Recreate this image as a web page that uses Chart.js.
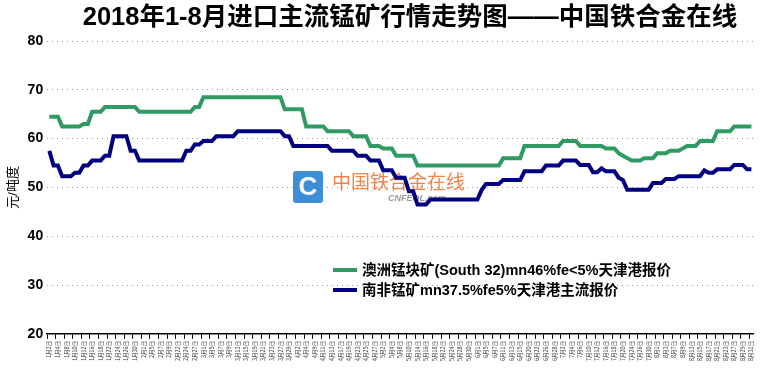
<!DOCTYPE html>
<html>
<head>
<meta charset="utf-8">
<script src="https://cdn.jsdelivr.net/npm/chart.js@4"></script>
<style>
  body { margin: 0; background: #fff; }
</style>
</head>
<body>
<canvas id="manganese" width="760" height="375"></canvas>
<script>
// trading days Jan-Aug 2018, one price per day
const tradeDays = [
  '1月2日', '1月3日', '1月4日', '1月5日', '1月8日', '1月9日', '1月10日', '1月11日', '1月12日', '1月15日',
  '1月16日', '1月17日', '1月18日', '1月19日', '1月22日', '1月23日', '1月24日', '1月25日', '1月26日', '1月29日',
  '1月30日', '1月31日', '2月1日', '2月2日', '2月5日', '2月6日', '2月7日', '2月8日', '2月9日', '2月14日',
  '2月22日', '2月23日', '2月24日', '2月26日', '2月27日', '2月28日', '3月1日', '3月2日', '3月5日', '3月6日',
  '3月7日', '3月8日', '3月9日', '3月12日', '3月13日', '3月14日', '3月15日', '3月16日', '3月19日', '3月20日',
  '3月21日', '3月22日', '3月23日', '3月26日', '3月27日', '3月28日', '3月29日', '3月30日', '4月2日', '4月3日',
  '4月4日', '4月8日', '4月9日', '4月10日', '4月11日', '4月12日', '4月13日', '4月16日', '4月17日', '4月18日',
  '4月19日', '4月20日', '4月23日', '4月24日', '4月25日', '4月26日', '4月27日', '4月28日', '5月2日', '5月3日',
  '5月4日', '5月7日', '5月8日', '5月9日', '5月10日', '5月11日', '5月14日', '5月15日', '5月16日', '5月17日',
  '5月18日', '5月21日', '5月22日', '5月23日', '5月24日', '5月25日', '5月28日', '5月29日', '5月30日', '5月31日',
  '6月1日', '6月4日', '6月5日', '6月6日', '6月7日', '6月8日', '6月11日', '6月12日', '6月13日', '6月14日',
  '6月15日', '6月19日', '6月20日', '6月21日', '6月22日', '6月25日', '6月26日', '6月27日', '6月28日', '6月29日',
  '7月2日', '7月3日', '7月4日', '7月5日', '7月6日', '7月9日', '7月10日', '7月11日', '7月12日', '7月13日',
  '7月16日', '7月17日', '7月18日', '7月19日', '7月20日', '7月23日', '7月24日', '7月25日', '7月26日', '7月27日',
  '7月30日', '7月31日', '8月1日', '8月2日', '8月3日', '8月6日', '8月7日', '8月8日', '8月9日', '8月10日',
  '8月13日', '8月14日', '8月15日', '8月16日', '8月17日', '8月20日', '8月21日', '8月22日', '8月23日', '8月24日',
  '8月27日', '8月28日', '8月29日', '8月30日', '8月31日',
]

// South 32 lump, Australia (yuan per dmtu)
const south32 = [
  64.5, 64.5, 64.5, 62.5, 62.5, 62.5, 62.5, 62.5, 63, 63,
  65.5, 65.5, 65.5, 66.5, 66.5, 66.5, 66.5, 66.5, 66.5, 66.5,
  66.5, 65.5, 65.5, 65.5, 65.5, 65.5, 65.5, 65.5, 65.5, 65.5,
  65.5, 65.5, 65.5, 65.5, 66.5, 66.5, 68.5, 68.5, 68.5, 68.5,
  68.5, 68.5, 68.5, 68.5, 68.5, 68.5, 68.5, 68.5, 68.5, 68.5,
  68.5, 68.5, 68.5, 68.5, 68.5, 66, 66, 66, 66, 66,
  62.5, 62.5, 62.5, 62.5, 62.5, 61.5, 61.5, 61.5, 61.5, 61.5,
  61.5, 60.5, 60.5, 60.5, 60.5, 58.5, 58.5, 58.5, 58, 58,
  58, 56.5, 56.5, 56.5, 56.5, 56.5, 54.5, 54.5, 54.5, 54.5,
  54.5, 54.5, 54.5, 54.5, 54.5, 54.5, 54.5, 54.5, 54.5, 54.5,
  54.5, 54.5, 54.5, 54.5, 54.5, 54.5, 56, 56, 56, 56,
  56, 58.5, 58.5, 58.5, 58.5, 58.5, 58.5, 58.5, 58.5, 58.5,
  59.5, 59.5, 59.5, 59.5, 58.5, 58.5, 58.5, 58.5, 58.5, 58.5,
  58, 58, 58, 57, 56.5, 56, 55.5, 55.5, 55.5, 56,
  56, 56, 57, 57, 57, 57.5, 57.5, 57.5, 58, 58.5,
  58.5, 58.5, 59.5, 59.5, 59.5, 59.5, 61.5, 61.5, 61.5, 61.5,
  62.5, 62.5, 62.5, 62.5, 62.5,
]

// South Africa mn37.5%
const southAfrica = [
  57.5, 54.5, 54.5, 52.3, 52.3, 52.3, 53, 53, 54.5, 54.5,
  55.5, 55.5, 55.5, 56.5, 56.5, 60.5, 60.5, 60.5, 60.5, 57.5,
  57.5, 55.5, 55.5, 55.5, 55.5, 55.5, 55.5, 55.5, 55.5, 55.5,
  55.5, 55.5, 57.5, 57.5, 58.8, 58.8, 59.5, 59.5, 59.5, 60.5,
  60.5, 60.5, 60.5, 60.5, 61.5, 61.5, 61.5, 61.5, 61.5, 61.5,
  61.5, 61.5, 61.5, 61.5, 61.5, 60.5, 60.5, 58.5, 58.5, 58.5,
  58.5, 58.5, 58.5, 58.5, 58.5, 58.5, 57.5, 57.5, 57.5, 57.5,
  57.5, 57.5, 56.5, 56.5, 56.5, 55.5, 55.5, 55.5, 53.5, 53.5,
  53.5, 52, 52, 52, 49.2, 49.2, 46.5, 46.5, 46.5, 47.5,
  47.5, 47.5, 47.5, 47.5, 47.5, 47.5, 47.5, 47.5, 47.5, 47.5,
  47.5, 49.5, 50.7, 50.7, 50.7, 50.7, 51.5, 51.5, 51.5, 51.5,
  51.5, 53.3, 53.3, 53.3, 53.3, 53.3, 54.5, 54.5, 54.5, 54.5,
  55.5, 55.5, 55.5, 55.5, 54.6, 54.6, 54.6, 53.1, 53.1, 53.9,
  53.3, 53.3, 53.3, 52, 51.5, 49.5, 49.5, 49.5, 49.5, 49.5,
  49.5, 50.9, 50.9, 50.9, 51.7, 51.7, 51.7, 52.3, 52.3, 52.3,
  52.3, 52.3, 52.3, 53.5, 53, 53, 53.7, 53.7, 53.7, 53.7,
  54.6, 54.6, 54.6, 53.7, 53.7,
]

const yTicks = [20, 30, 40, 50, 60, 70, 80]

Chart.defaults.font.family = '"Liberation Sans", "Noto Sans CJK SC", sans-serif'
Chart.defaults.color = '#000'

// title, legend and site mark are drawn by hand, like the source picture
const decorations = {
  id: 'decorations',
  beforeDatasetsDraw(chart) {
    const c = chart.ctx
    c.save()
    c.fillStyle = '#3d8ed6'
    c.beginPath()
    c.roundRect(293, 171, 30, 32, 3)
    c.fill()
    c.fillStyle = '#fff'
    c.font = 'bold 26px "Liberation Sans"'
    c.textAlign = 'center'
    c.textBaseline = 'middle'
    c.fillText('C', 308, 188)
    c.fillStyle = '#f2844a'
    c.font = '19px "Noto Sans CJK SC"'
    c.textAlign = 'left'
    c.fillText('中国铁合金在线', 332, 182)
    c.fillStyle = '#9a9a9a'
    c.font = 'italic bold 9px "Liberation Sans"'
    c.fillText('CNFEOL.com', 388, 199)
    c.restore()
  },
  afterDraw(chart) {
    const c = chart.ctx
    c.save()
    c.fillStyle = '#000'
    c.font = 'bold 25.5px "Liberation Sans", "Noto Sans CJK SC"'
    c.textAlign = 'center'
    c.textBaseline = 'middle'
    c.fillText('2018年1-8月进口主流锰矿行情走势图——中国铁合金在线', 410, 18)

    chart.data.datasets.forEach((ds, i) => {
      const y = 270 + i * 20
      c.strokeStyle = ds.borderColor
      c.lineWidth = 4
      c.beginPath()
      c.moveTo(333, y)
      c.lineTo(357, y)
      c.stroke()
      c.fillStyle = '#000'
      c.font = 'bold 14.5px "Liberation Sans", "Noto Sans CJK SC"'
      c.textAlign = 'left'
      c.fillText(ds.label, 362, y + 1)
    })
    c.restore()
  },
}

const ctxMn = document.getElementById('manganese').getContext('2d')

const configMn = {
  type: 'line',
  data: {
    labels: tradeDays,
    datasets: [
      {
        label: '澳洲锰块矿(South 32)mn46%fe<5%天津港报价',
        data: south32,
        borderColor: '#2f9a62',
        borderWidth: 4,
        pointRadius: 0,
        tension: 0,
      },
      {
        label: '南非锰矿mn37.5%fe5%天津港主流报价',
        data: southAfrica,
        borderColor: '#000080',
        borderWidth: 4,
        pointRadius: 0,
        tension: 0,
      },
    ],
  },
  plugins: [decorations],
  options: {
    responsive: false,
    animation: false,
    layout: {
      padding: { top: 41, left: 4, right: 3, bottom: 12 },
    },
    plugins: {
      legend: { display: false },
      title: { display: false },
      tooltip: { enabled: false },
    },
    scales: {
      x: {
        offset: true,
        border: { color: '#000', width: 1.5 },
        grid: {
          offset: true,
          drawOnChartArea: false,
          tickLength: 5,
          color: c => (c.index % 2 === 0 ? '#000' : 'rgba(0,0,0,0)'),
        },
        ticks: {
          autoSkip: false,
          minRotation: 90,
          maxRotation: 90,
          padding: 2,
          color: '#333',
          font: { size: 5.5, family: '"Noto Sans CJK SC"' },
          callback: (v, i) => (i % 2 === 0 ? tradeDays[i] : ''),
        },
      },
      y: {
        min: 20,
        max: 80,
        afterBuildTicks: axis => {
          axis.ticks = yTicks.map(v => ({ value: v }))
        },
        border: { display: false, dash: [1, 4] },
        grid: {
          color: '#999',
          lineWidth: 1,
          drawTicks: false,
        },
        ticks: {
          padding: 4,
          font: { size: 14, weight: 'bold' },
        },
        title: {
          display: true,
          text: '元/吨度',
          font: { size: 13 },
          padding: { top: 2, bottom: 2 },
        },
      },
    },
  },
}

const mnChart = new Chart(ctxMn, configMn)
</script>
</body>
</html>
